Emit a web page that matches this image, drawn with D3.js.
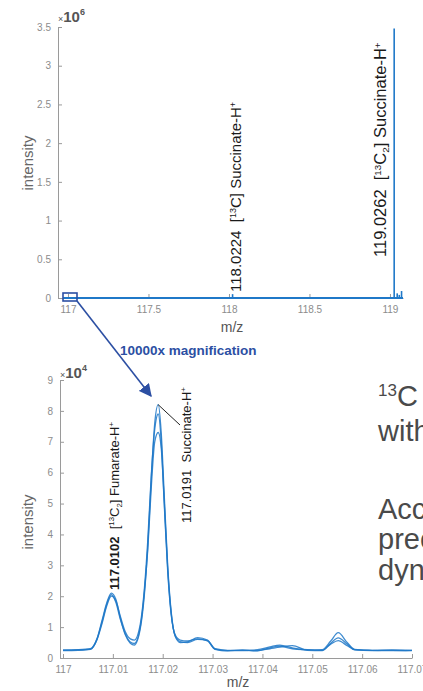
<!DOCTYPE html>
<html>
<head>
<meta charset="utf-8">
<script src="https://cdn.jsdelivr.net/npm/d3@7"></script>
<style>
  body { margin: 0; background: #fff; }
  svg { display: block; font-family: 'Liberation Sans', Arial, sans-serif; }
  .tick text { fill: #8c8c8c; font-size: 10px; }
  .tick line, .domain { stroke: #9a9a9a; }
</style>
</head>
<body>
<svg width="423" height="691"></svg>
<script>
// full spectrum (x10^6)
const fullDomain = [116.938, 119.081];
const fullTicksX = [117, 117.5, 118, 118.5, 119];
const fullTicksY = [0, 0.5, 1, 1.5, 2, 2.5, 3, 3.5];
const peakMz = [117.0191, 118.0224, 119.0262, 119.045, 119.058, 119.072];
const peakInt = [0.00008, 0.05, 3.48, 0.06, 0.04, 0.09];
const fullLabels = [
  { mz: 118.0224, num: '118.0224', iso: '13', sub: '', name: 'Succinate-H' },
  { mz: 119.0262, num: '119.0262', iso: '13', sub: '2', name: 'Succinate-H' }
];

// magnified region (x10^4), three overlaid scans
const zoomDomain = [116.9994, 117.07];
const zoomTicksX = [117, 117.01, 117.02, 117.03, 117.04, 117.05, 117.06, 117.07];
const zoomTicksY = [0, 1, 2, 3, 4, 5, 6, 7, 8, 9];
const zoomMz = [117.000, 117.003, 117.0055, 117.0068, 117.0078, 117.0088, 117.0097, 117.0106,
  117.0115, 117.0125, 117.0135, 117.0143, 117.0155, 117.0163, 117.0170, 117.0177, 117.0184,
  117.0191, 117.0197, 117.0203, 117.0210, 117.0217, 117.0225, 117.0235, 117.0250, 117.0270,
  117.0290, 117.0305, 117.0330, 117.0360, 117.0390, 117.0415, 117.0435, 117.0460, 117.0490,
  117.0520, 117.0537, 117.0552, 117.0570, 117.0585, 117.0620, 117.0660, 117.0700];
const scanA = [0.26, 0.27, 0.30, 0.62, 1.20, 1.80, 2.10, 1.90, 1.30, 0.75, 0.48, 0.42, 0.95, 2.00,
  3.60, 5.80, 7.60, 8.20, 7.30, 5.30, 3.00, 1.50, 0.70, 0.50, 0.52, 0.66, 0.58, 0.30, 0.25, 0.24,
  0.27, 0.36, 0.42, 0.33, 0.26, 0.27, 0.55, 0.82, 0.50, 0.28, 0.25, 0.26, 0.25];
const scanB = [0.24, 0.25, 0.28, 0.58, 1.10, 1.70, 2.00, 1.85, 1.35, 0.85, 0.62, 0.58, 1.10, 2.20,
  3.80, 5.90, 7.40, 7.90, 7.00, 5.00, 2.80, 1.40, 0.75, 0.58, 0.55, 0.62, 0.55, 0.28, 0.23, 0.26,
  0.24, 0.30, 0.35, 0.40, 0.25, 0.24, 0.48, 0.65, 0.45, 0.26, 0.24, 0.25, 0.24];
const scanC = [0.25, 0.26, 0.29, 0.60, 1.15, 1.75, 2.05, 1.80, 1.25, 0.78, 0.52, 0.47, 1.00, 2.10,
  3.50, 5.50, 7.00, 7.30, 6.80, 5.10, 2.90, 1.45, 0.72, 0.53, 0.50, 0.60, 0.56, 0.29, 0.24, 0.25,
  0.23, 0.33, 0.38, 0.30, 0.27, 0.25, 0.45, 0.56, 0.40, 0.27, 0.25, 0.24, 0.25];

const sideText = ['¹³C labelled succinate', 'with', '', 'Accurate', 'precise', 'dynamic'];

const blue = '#1f78c8';
const navy = '#2c4fa3';
const svg = d3.select('svg');

// ---------- top panel ----------
const x1 = d3.scaleLinear().domain(fullDomain).range([58, 403]);
const y1 = d3.scaleLinear().domain([0, 3.5]).range([298, 27]);

svg.append('g')
  .attr('transform', 'translate(0,298)')
  .call(d3.axisBottom(x1).tickValues(fullTicksX).tickSize(-4).tickSizeOuter(0).tickPadding(8).tickFormat(d => String(d)));
svg.append('g')
  .attr('transform', 'translate(58,0)')
  .call(d3.axisLeft(y1).tickValues(fullTicksY).tickSize(-4).tickSizeOuter(0).tickPadding(7).tickFormat(d => String(d)));

svg.append('line')
  .attr('x1', x1(116.97)).attr('x2', x1(fullDomain[1]))
  .attr('y1', y1(0)).attr('y2', y1(0))
  .attr('stroke', blue).attr('stroke-width', 2);

svg.append('g').selectAll('line')
  .data(peakMz)
  .enter().append('line')
  .attr('x1', d => x1(d)).attr('x2', d => x1(d))
  .attr('y1', y1(0)).attr('y2', (d, i) => y1(peakInt[i]))
  .attr('stroke', blue).attr('stroke-width', 1.6);

const mult = (x, y, exp) => {
  const t = svg.append('text').attr('x', x).attr('y', y).attr('fill', '#555');
  t.append('tspan').attr('font-size', 9).text('×');
  t.append('tspan').attr('font-size', 15).attr('font-weight', 'bold').text('10');
  t.append('tspan').attr('font-size', 9).attr('font-weight', 'bold').attr('dy', -7).text(exp);
};
mult(58, 22, '6');

const peakLabel = (x, y, d, size, boldNum) => {
  const t = svg.append('text')
    .attr('transform', `translate(${x},${y}) rotate(-90)`)
    .attr('font-size', size).attr('fill', '#1a1a1a').attr('dy', '0.35em');
  t.append('tspan').attr('font-weight', boldNum ? 'bold' : 'normal').text(d.num + '\u00a0\u00a0');
  if (d.iso) {
    t.append('tspan').text('[');
    t.append('tspan').attr('font-size', size * 0.6).attr('dy', -5).text(d.iso);
    t.append('tspan').attr('dy', 5).text('C');
    if (d.sub) {
      t.append('tspan').attr('font-size', size * 0.6).attr('dy', 3).text(d.sub);
      t.append('tspan').attr('dy', -3).text(']');
    } else {
      t.append('tspan').text(']');
    }
    t.append('tspan').text(' ');
  }
  t.append('tspan').text(d.name);
  t.append('tspan').attr('font-size', size * 0.6).attr('dy', -5).text('+');
};
peakLabel(x1(fullLabels[0].mz) + 3, 292, fullLabels[0], 15, false);
peakLabel(x1(fullLabels[1].mz) - 14, 257, fullLabels[1], 16.5, false);

svg.append('text').attr('x', 232).attr('y', 332).attr('text-anchor', 'middle')
  .attr('font-size', 14).attr('fill', '#555').text('m/z');
svg.append('text').attr('transform', 'translate(33,163) rotate(-90)').attr('text-anchor', 'middle')
  .attr('font-size', 15).attr('fill', '#666').text('intensity');

// magnification box + arrow
svg.append('defs').append('marker')
  .attr('id', 'ah').attr('viewBox', '0 0 10 10').attr('refX', 9).attr('refY', 5)
  .attr('markerWidth', 8).attr('markerHeight', 8).attr('orient', 'auto')
  .append('path').attr('d', 'M0,0L10,5L0,10z').attr('fill', navy);
svg.append('rect').attr('x', 63).attr('y', 293).attr('width', 14).attr('height', 8)
  .attr('fill', 'none').attr('stroke', navy).attr('stroke-width', 1.6);
svg.append('line').attr('x1', 77).attr('y1', 301).attr('x2', 151).attr('y2', 396)
  .attr('stroke', navy).attr('stroke-width', 1.6).attr('marker-end', 'url(#ah)');
svg.append('text').attr('x', 120).attr('y', 355).attr('font-size', 13.5).attr('font-weight', 'bold')
  .attr('fill', navy).text('10000x magnification');

// ---------- bottom panel ----------
const x2 = d3.scaleLinear().domain(zoomDomain).range([60, 412]);
const y2 = d3.scaleLinear().domain([0, 9]).range([658, 380]);

svg.append('g')
  .attr('transform', 'translate(0,658)')
  .call(d3.axisBottom(x2).tickValues(zoomTicksX).tickSize(-4).tickSizeOuter(0).tickPadding(8).tickFormat(d => String(d)));
svg.append('g')
  .attr('transform', 'translate(60,0)')
  .call(d3.axisLeft(y2).tickValues(zoomTicksY).tickSize(-4).tickSizeOuter(0).tickPadding(7));

const line = d3.line().x((d, i) => x2(zoomMz[i])).y(d => y2(d)).curve(d3.curveMonotoneX);
svg.append('g').selectAll('path')
  .data([scanA, scanB, scanC])
  .enter().append('path')
  .attr('d', line)
  .attr('fill', 'none').attr('stroke', blue).attr('stroke-width', 1.3).attr('stroke-opacity', 0.85);

mult(60, 378, '4');

peakLabel(114, 590, { num: '117.0102', iso: '13', sub: '2', name: 'Fumarate-H' }, 13, true);
peakLabel(186, 523, { num: '117.0191', iso: '', sub: '', name: 'Succinate-H' }, 13, false);
svg.append('line').attr('x1', x2(117.0191)).attr('y1', y2(8.2)).attr('x2', 180).attr('y2', 425)
  .attr('stroke', '#222').attr('stroke-width', 1);

svg.append('text').attr('x', 238).attr('y', 687).attr('text-anchor', 'middle')
  .attr('font-size', 14).attr('fill', '#555').text('m/z');
svg.append('text').attr('transform', 'translate(33,522) rotate(-90)').attr('text-anchor', 'middle')
  .attr('font-size', 15).attr('fill', '#666').text('intensity');

// slide text on the right, cut by the frame
const sideY = [406, 441, 0, 519, 549, 580];
sideText.forEach((s, i) => {
  if (!s) return;
  const t = svg.append('text').attr('x', 378).attr('y', sideY[i]).attr('font-size', 29).attr('fill', '#4a4a4a');
  if (s.startsWith('¹³')) {
    t.append('tspan').attr('font-size', 17).attr('dy', -10).text('13');
    t.append('tspan').attr('dy', 10).text(s.slice(2));
  } else {
    t.text(s);
  }
});
</script>
</body>
</html>
